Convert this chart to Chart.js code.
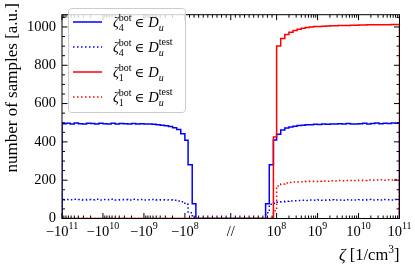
<!DOCTYPE html>
<html>
<head>
<meta charset="utf-8">
<script src="https://cdn.jsdelivr.net/npm/chart.js@4.4.1/dist/chart.umd.min.js"></script>
<style>
	html, body { margin: 0; padding: 0; background: #fff; }
</style>
</head>
<body>
<canvas id="hist_chart" width="415" height="266"></canvas>
<script>
// bin edges: linear part in units of 1e8, log part as log10|zeta|
var linEdges = [0.76, 0.84, 0.93, 1.0];
var logEdges = [8.0, 8.1, 8.2, 8.3, 8.4, 8.5, 8.6, 8.7, 8.8, 8.9, 9.0, 9.1, 9.2, 9.3, 9.4, 9.5, 9.6, 9.7, 9.8, 9.9,
	10.0, 10.1, 10.2, 10.3, 10.4, 10.5, 10.6, 10.7, 10.8, 10.9, 11.0];

// counts per bin, ordered by growing |zeta| (3 linear bins then 30 log bins)
var blueSolidNeg = [77, 280, 409, 443, 465, 474, 480, 484, 487, 490, 492, 494, 493, 495, 494, 496, 493, 495, 496,
	494, 497, 493, 495, 497, 494, 496, 497, 493, 495, 498, 494, 497, 495];
var blueSolidPos = [77, 280, 410, 440, 462, 472, 478, 482, 485, 487, 489, 490, 492, 491, 493, 492, 494, 493, 495,
	493, 496, 494, 493, 495, 497, 494, 496, 498, 495, 497, 496, 498, 497];
var blueDotNeg = [8, 30, 74, 88, 92, 95, 96, 97, 98, 97, 99, 98, 97, 99, 98, 100, 97, 99, 98, 97, 100, 98, 99,
	97, 100, 98, 99, 97, 99, 100, 98, 99, 97];
var blueDotPos = [30, 75, 80, 85, 88, 90, 92, 93, 94, 95, 94, 96, 95, 97, 95, 96, 98, 96, 97, 95, 98, 97, 96,
	98, 97, 99, 97, 98, 96, 99, 98, 97, 99];
var redSolidPos = [0, 0, 425, 900, 940, 960, 972, 982, 988, 993, 997, 1000, 1002, 1003, 1004, 1005, 1006, 1006,
	1007, 1008, 1008, 1009, 1009, 1010, 1010, 1011, 1011, 1011, 1012, 1012, 1012, 1013, 1013];
var redDotPos = [0, 0, 40, 170, 180, 185, 188, 190, 191, 192, 193, 194, 193, 195, 196, 195, 197, 196, 198, 197,
	198, 199, 198, 200, 199, 201, 200, 201, 202, 200, 202, 201, 203];

var xTickValues = [-1e11, -1e10, -1e9, -1e8, 0, 1e8, 1e9, 1e10, 1e11];
var xTickBase = ['\u221210', '\u221210', '\u221210', '\u221210', '//', '10', '10', '10', '10'];
var xTickExp = ['11', '10', '9', '8', '', '8', '9', '10', '11'];
var yTickValues = [0, 200, 400, 600, 800, 1000];

var LIN = 1.12; // width of the linear region (|zeta| < 1e8) in decades

function symlog(z) {
	var a = Math.abs(z);
	if (a <= 1e8) {
		return z / 1e8 * LIN;
	}
	return Math.sign(z) * (Math.log10(a) - 8 + LIN);
}

var absEdges = linEdges.map(function(v) { return v * 1e8; })
	.concat(logEdges.slice(1).map(function(d) { return Math.pow(10, d); }));

function histPoints(neg, pos) {
	var pts = [];
	if (neg) {
		for (var i = neg.length - 1; i >= 0; i--) {
			var x0 = symlog(-absEdges[i + 1]);
			var x1 = symlog(-absEdges[i]);
			if (i == neg.length - 1) pts.push({x: x0, y: 0});
			pts.push({x: x0, y: neg[i]});
			pts.push({x: x1, y: neg[i]});
		}
		pts.push({x: symlog(-absEdges[0]), y: 0});
	} else {
		pts.push({x: symlog(-1e11), y: 0});
	}
	for (var j = 0; j < pos.length; j++) {
		var a = symlog(absEdges[j]);
		var b = symlog(absEdges[j + 1]);
		if (j == 0) pts.push({x: a, y: 0});
		pts.push({x: a, y: pos[j]});
		pts.push({x: b, y: pos[j]});
	}
	pts.push({x: symlog(1e11), y: 0});
	return pts;
}

var SERIF = '"Liberation Serif", "DejaVu Serif", serif';

function setFont(ctx, size, italic) {
	ctx.font = (italic ? 'italic ' : '') + size + 'px ' + SERIF;
}

// draws a row of text pieces; a piece with stack:true shares x with the next one
function drawMath(ctx, x, y, parts) {
	var stackW = 0;
	parts.forEach(function(p) {
		setFont(ctx, p.size, p.italic);
		var w = ctx.measureText(p.t).width;
		ctx.fillText(p.t, x, y + (p.dy || 0));
		if (p.stack) {
			stackW = w;
			return;
		}
		x += Math.max(w, stackW) + (p.gap || 0);
		stackW = 0;
	});
	return x;
}

function mathWidth(ctx, parts) {
	var w = 0, stackW = 0;
	parts.forEach(function(p) {
		setFont(ctx, p.size, p.italic);
		var pw = ctx.measureText(p.t).width;
		if (p.stack) { stackW = pw; return; }
		w += Math.max(pw, stackW) + (p.gap || 0);
		stackW = 0;
	});
	return w;
}

function legendParts(sub, test) {
	var parts = [
		{t: '\u03b6', size: 14.5, italic: true},
		{t: 'bot', size: 10, dy: -6.5, stack: true},
		{t: sub, size: 10, dy: 3.5, gap: 3},
		{t: '\u2208', size: 13, gap: 4},
		{t: 'D', size: 14.5, italic: true}
	];
	if (test) parts.push({t: 'test', size: 10, dy: -7, stack: true});
	parts.push({t: 'u', size: 10, italic: true, dy: 3.5});
	return parts;
}

var frameAndText = {
	id: 'frameAndText',
	afterDatasetsDraw: function(chart) {
		var ctx = chart.ctx;
		var area = chart.chartArea;
		var xs = chart.scales.x;
		var ys = chart.scales.y;
		ctx.save();

		// frame
		ctx.strokeStyle = '#000';
		ctx.lineWidth = 1;
		ctx.strokeRect(area.left, area.top, area.right - area.left, area.bottom - area.top);

		// inward ticks
		function xTick(v, len) {
			var px = xs.getPixelForValue(symlog(v));
			ctx.beginPath();
			ctx.moveTo(px, area.bottom);
			ctx.lineTo(px, area.bottom - len);
			ctx.moveTo(px, area.top);
			ctx.lineTo(px, area.top + len);
			ctx.stroke();
		}
		function yTick(v, len) {
			var py = ys.getPixelForValue(v);
			ctx.beginPath();
			ctx.moveTo(area.left, py);
			ctx.lineTo(area.left + len, py);
			ctx.moveTo(area.right, py);
			ctx.lineTo(area.right - len, py);
			ctx.stroke();
		}
		xTickValues.forEach(function(v) { xTick(v, 5.5); });
		for (var d = 8; d < 11; d++) {
			for (var k = 2; k < 10; k++) {
				xTick(k * Math.pow(10, d), 3);
				xTick(-k * Math.pow(10, d), 3);
			}
		}
		for (var m = 1; m < 10; m++) {
			xTick(m * 1e7, 3);
			xTick(-m * 1e7, 3);
		}
		yTickValues.forEach(function(v) { yTick(v, 5.5); });
		for (var q = 50; q <= 1050; q += 50) {
			if (q % 200 != 0) yTick(q, 3);
		}

		// x tick labels with exponents
		ctx.fillStyle = '#000';
		ctx.textBaseline = 'alphabetic';
		ctx.textAlign = 'left';
		xTickValues.forEach(function(v, i) {
			var parts = [{t: xTickBase[i], size: 14.5}];
			if (xTickExp[i]) parts.push({t: xTickExp[i], size: 10, dy: -6.5});
			var w = mathWidth(ctx, parts);
			var px = xs.getPixelForValue(symlog(v));
			drawMath(ctx, px - w / 2, area.bottom + 17, parts);
		});

		// x title
		var xt = [
			{t: '\u03b6', size: 16.5, italic: true, gap: 4},
			{t: '[1/cm', size: 16.5},
			{t: '3', size: 11.5, dy: -7},
			{t: ']', size: 16.5}
		];
		drawMath(ctx, area.right - mathWidth(ctx, xt), 259.5, xt);

		// y title
		ctx.save();
		ctx.translate(16.5, 3);
		ctx.rotate(-Math.PI / 2);
		ctx.textAlign = 'right';
		setFont(ctx, 17, false);
		ctx.fillText('number of samples [a.u.]', 0, 0);
		ctx.restore();

		// legend
		var bx = 68, by = 8, bw = 117, bh = 104;
		ctx.beginPath();
		ctx.roundRect(bx + 0.5, by + 0.5, bw, bh, 3);
		ctx.fillStyle = 'rgba(255,255,255,0.8)';
		ctx.fill();
		ctx.strokeStyle = '#cccccc';
		ctx.stroke();

		var entries = [
			{ds: 0, sub: '4', test: false},
			{ds: 1, sub: '4', test: true},
			{ds: 2, sub: '1', test: false},
			{ds: 3, sub: '1', test: true}
		];
		entries.forEach(function(e, i) {
			var ds = chart.data.datasets[e.ds];
			var ly = 22 + i * 25;
			ctx.beginPath();
			ctx.strokeStyle = ds.borderColor;
			ctx.lineWidth = ds.borderWidth;
			ctx.setLineDash(ds.borderDash || []);
			ctx.moveTo(73, ly);
			ctx.lineTo(102, ly);
			ctx.stroke();
			ctx.setLineDash([]);
			ctx.fillStyle = '#000';
			drawMath(ctx, 113, ly + 5, legendParts(e.sub, e.test));
		});

		ctx.restore();
	}
};

var ctx = document.getElementById('hist_chart').getContext('2d');
var chart = new Chart(ctx, {
	type: 'line',
	data: {
		datasets: [{
			label: 'zeta4 bot in D_u',
			data: histPoints(blueSolidNeg, blueSolidPos),
			borderColor: '#0000ff',
			borderWidth: 1.5,
			order: 4
		}, {
			label: 'zeta4 bot in D_u test',
			data: histPoints(blueDotNeg, blueDotPos),
			borderColor: '#0000ff',
			borderWidth: 1.5,
			borderDash: [1.5, 2.5],
			order: 3
		}, {
			label: 'zeta1 bot in D_u',
			data: histPoints(null, redSolidPos),
			borderColor: '#ff0000',
			borderWidth: 1.5,
			order: 2
		}, {
			label: 'zeta1 bot in D_u test',
			data: histPoints(null, redDotPos),
			borderColor: '#ff0000',
			borderWidth: 1.5,
			borderDash: [1.5, 2.5],
			order: 1
		}]
	},
	options: {
		responsive: false,
		animation: false,
		devicePixelRatio: 1,
		layout: { padding: { top: 2, right: 15.5, left: 0, bottom: 0 } },
		elements: { point: { radius: 0 }, line: { tension: 0, fill: false } },
		plugins: { legend: { display: false }, tooltip: { enabled: false } },
		scales: {
			x: {
				type: 'linear',
				min: symlog(-1e11),
				max: symlog(1e11),
				afterFit: function(s) { s.height = 47.5; },
				ticks: { display: false },
				grid: { display: false, drawTicks: false },
				border: { display: false }
			},
			y: {
				min: 0,
				max: 1064,
				afterFit: function(s) { s.width = 62; },
				afterBuildTicks: function(s) {
					s.ticks = yTickValues.map(function(v) { return {value: v}; });
				},
				ticks: {
					padding: 6,
					color: '#000',
					font: { family: SERIF, size: 14.5 },
					callback: function(v) { return String(v); }
				},
				grid: { display: false, drawTicks: false },
				border: { display: false }
			}
		}
	},
	plugins: [frameAndText]
});
</script>
</body>
</html>
